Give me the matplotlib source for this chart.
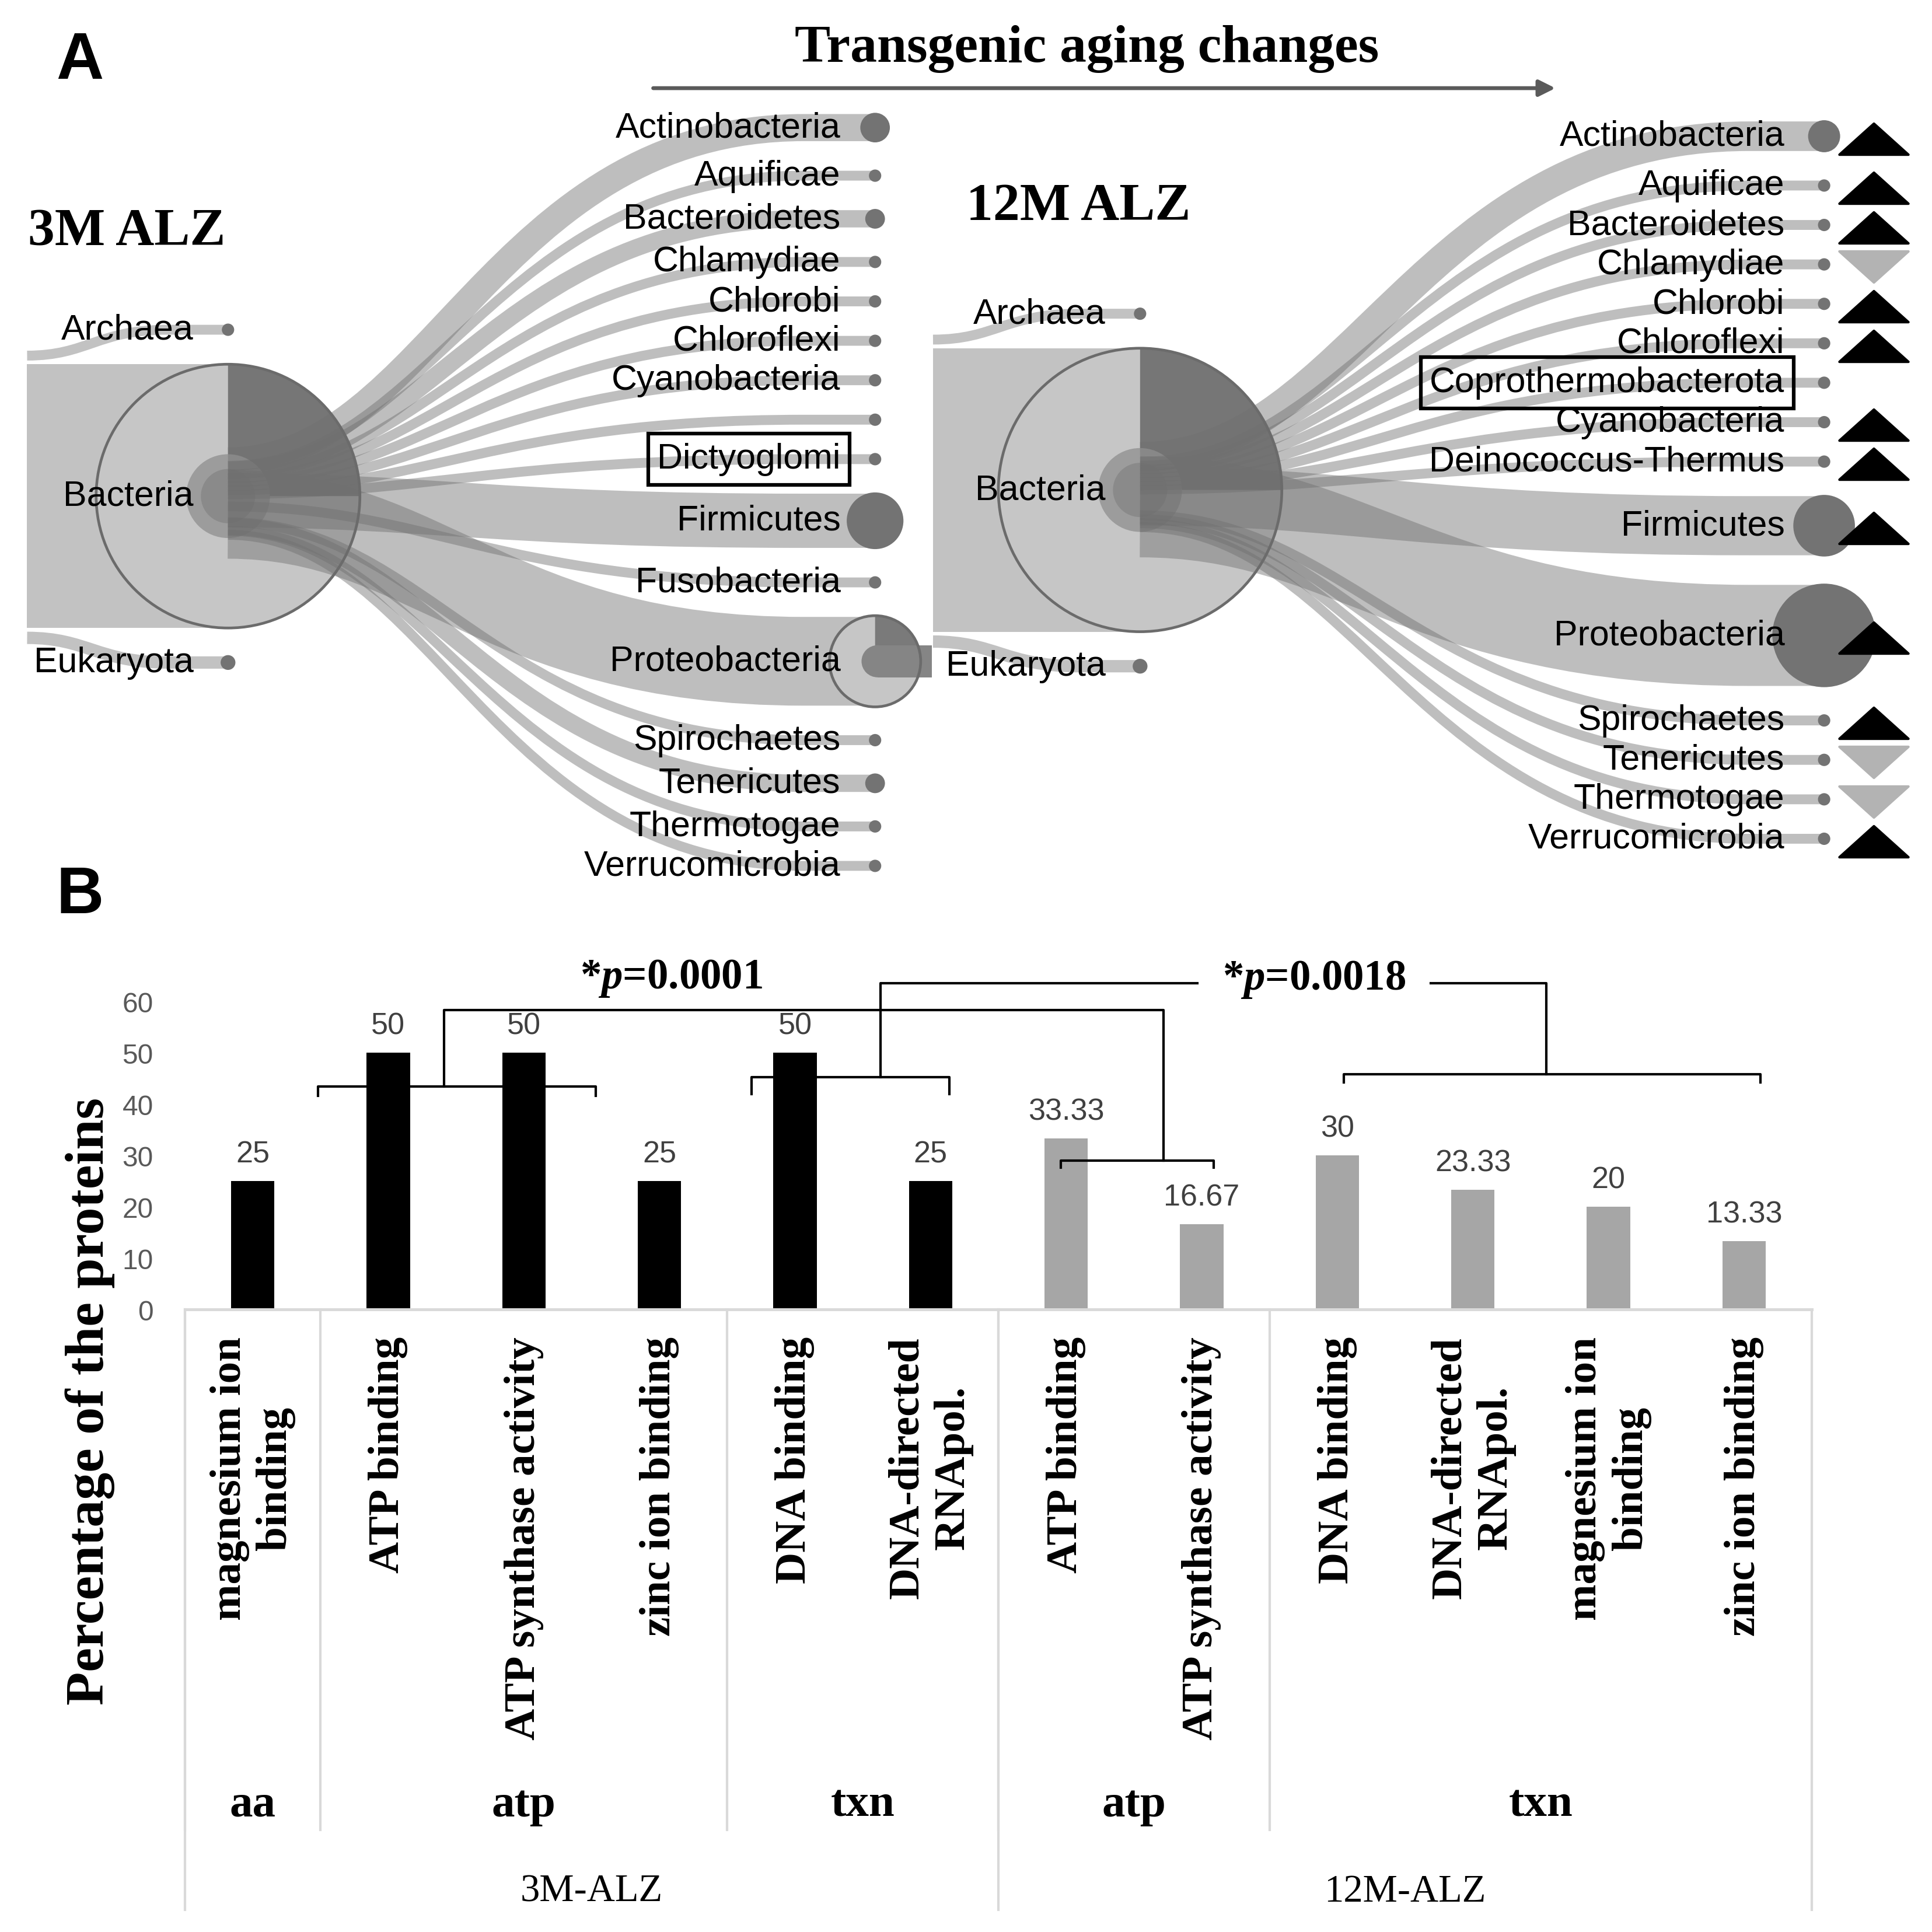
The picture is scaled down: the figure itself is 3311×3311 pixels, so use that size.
import numpy as np
import matplotlib.pyplot as plt
import matplotlib.transforms as mtransforms
from matplotlib.path import Path
from matplotlib.patches import PathPatch, Circle, Wedge, Rectangle

plt.rcParams['mathtext.fontset'] = 'custom'
plt.rcParams['mathtext.it'] = 'Liberation Serif:italic:bold'
plt.rcParams['mathtext.rm'] = 'Liberation Serif:bold'

SANS = 'Liberation Sans'
SERIF = 'Liberation Serif'

# ---- panel A: taxonomy trees (node size ~ abundance) ----
phyla_3m = ['Actinobacteria', 'Aquificae', 'Bacteroidetes', 'Chlamydiae', 'Chlorobi',
            'Chloroflexi', 'Cyanobacteria', '', 'Dictyoglomi', 'Firmicutes', 'Fusobacteria',
            'Proteobacteria', 'Spirochaetes', 'Tenericutes', 'Thermotogae', 'Verrucomicrobia']
node_3m = [12, 5, 8, 5, 5, 5, 5, 5, 5, 23, 5, 37, 5, 8, 5, 5]

phyla_12m = ['Actinobacteria', 'Aquificae', 'Bacteroidetes', 'Chlamydiae', 'Chlorobi',
             'Chloroflexi', 'Coprothermobacterota', 'Cyanobacteria', 'Deinococcus-Thermus',
             'Firmicutes', 'Proteobacteria', 'Spirochaetes', 'Tenericutes', 'Thermotogae',
             'Verrucomicrobia']
node_12m = [13, 5, 5, 5, 5, 5, 5, 5, 5, 25, 42, 5, 5, 5, 5]
trend_12m = ['up', 'up', 'up', 'down', 'up', 'up', '', 'up', 'up', 'up', 'up', 'up',
             'down', 'down', 'up']
new_phyla = ['Dictyoglomi', 'Coprothermobacterota']

# ---- panel B: GO terms ----
terms_3m = ['magnesium ion\nbinding', 'ATP binding', 'ATP synthase activity',
            'zinc ion binding', 'DNA binding', 'DNA-directed\nRNApol.']
groups_3m = ['aa', 'atp', 'atp', 'atp', 'txn', 'txn']
pct_3m = [25, 50, 50, 25, 50, 25]
terms_12m = ['ATP binding', 'ATP synthase activity', 'DNA binding', 'DNA-directed\nRNApol.',
             'magnesium ion\nbinding', 'zinc ion binding']
groups_12m = ['atp', 'atp', 'txn', 'txn', 'txn', 'txn']
pct_12m = [33.33, 16.67, 30, 23.33, 20, 13.33]

W = 1568
PT = 3312 / W * 72 / 300  # one layout unit in points

fig = plt.figure(figsize=(11.04, 11.04), dpi=300)
ov = fig.add_axes([0, 0, 1, 1])
ov.set_xlim(0, W)
ov.set_ylim(W, 0)
ov.axis('off')

LIGHT = '#c2c2c2'
DARK = '#737373'


def curve(x0, y0, x1, y1, xend, a=0.31, b=0.41, c=0.89):
    d = xend - x0
    verts = [(x0, y0), (x0 + a * d, y0), (x0 + b * d, y1), (x0 + c * d, y1), (xend, y1)]
    codes = [Path.MOVETO, Path.CURVE4, Path.CURVE4, Path.CURVE4, Path.LINETO]
    return Path(verts, codes)


def draw_tree(cx, cy, r, left_x, dot_x, y_first, names, sizes, label_gap, pie_child=None):
    # root level
    ov.add_patch(Rectangle((left_x, cy - r), cx - left_x, 2 * r, fc=LIGHT, ec='none', zorder=1))
    for sign, name, rr, w, off in [(-1, 'Archaea', 5, 8, 7), (1, 'Eukaryota', 6, 10, 8)]:
        ty = cy + sign * (r + 28)
        ys = cy + sign * (r + off)
        p = curve(left_x, ys, cx, ty, cx, 0.3, 0.35, 0.7)
        ov.add_patch(PathPatch(p, fill=False, lw=w * PT, ec=LIGHT, capstyle='butt', zorder=1))
        ov.add_patch(Circle((cx, ty), rr, fc=DARK, ec='none', zorder=5))
        ov.text(cx - 28, ty, name, ha='right', va='center', fontsize=14.6, family=SANS, zorder=6)

    ov.add_patch(Circle((cx, cy), r, fc='#c6c6c6', ec='none', zorder=2))
    ov.add_patch(Wedge((cx, cy), r, 270, 360, fc='#767676', ec='none', zorder=2.2))
    ov.add_patch(Circle((cx, cy), 34, fc='#9c9c9c', ec='none', zorder=2.4))
    ov.add_patch(Circle((cx, cy), 22, fc='#8a8a8a', ec='none', zorder=2.5))
    ov.text(cx - 28, cy, 'Bacteria', ha='right', va='center', fontsize=14.6, family=SANS, zorder=6)

    # phylum level
    ys = [y_first]
    for s0, s1 in zip(sizes[:-1], sizes[1:]):
        ys.append(ys[-1] + 22 + s0 + s1)
    mid = np.mean(ys)
    for y, s in zip(ys, sizes):
        p = curve(cx, cy + (y - mid) * 0.1, cx, y, dot_x)
        ov.add_patch(PathPatch(p, fill=False, lw=(2 * s - 2) * PT, ec='#707070', alpha=0.45,
                               capstyle='butt', zorder=3))
    ov.add_patch(Circle((cx, cy), r, fc='none', ec='#6b6b6b', lw=2.2 * PT, zorder=3.5))

    for name, y, s in zip(names, ys, sizes):
        if name == pie_child:
            ov.add_patch(Circle((dot_x, y), s, fc='#c6c6c6', ec='none', zorder=4.5))
            ov.add_patch(Wedge((dot_x, y), s, 270, 360, fc='#7a7a7a', ec='none', zorder=4.6))
            ov.add_patch(Circle((dot_x + 2, y), 13, fc='#858585', ec='none', zorder=4.7))
            ov.add_patch(Rectangle((dot_x + 2, y - 13), 44, 26, fc='#858585', ec='none', zorder=4.7))
            ov.add_patch(Circle((dot_x, y), s, fc='none', ec='#6b6b6b', lw=2.2 * PT, zorder=4.8))
        else:
            ov.add_patch(Circle((dot_x, y), s, fc=DARK, ec='none', zorder=5))
        if name:
            box = None
            if name in new_phyla:
                box = dict(boxstyle='square,pad=0.25', fc='none', ec='black', lw=1.5)
            ov.text(dot_x - label_gap, y, name, ha='right', va='center', fontsize=14.6,
                    family=SANS, zorder=6, bbox=box)
    return ys


draw_tree(185, 403, 107, 22, 710, 104, phyla_3m, node_3m, 28, pie_child='Proteobacteria')
ys12 = draw_tree(925, 398, 115, 757, 1480, 111, phyla_12m, node_12m, 32)

up = Path([(-1, -0.45), (1, -0.45), (0, 0.45), (-1, -0.45)],
          [Path.MOVETO, Path.LINETO, Path.LINETO, Path.CLOSEPOLY])
down = Path([(-1, 0.45), (1, 0.45), (0, -0.45), (-1, 0.45)],
            [Path.MOVETO, Path.LINETO, Path.LINETO, Path.CLOSEPOLY])
for y, t in zip(ys12, trend_12m):
    if t == 'up':
        ov.plot(1520, y + 2, marker=up, ms=56 * PT, color='black', zorder=7)
    elif t == 'down':
        ov.plot(1520, y + 2, marker=down, ms=56 * PT, color='#b3b3b3', zorder=7)

ov.text(65, 50, 'A', ha='center', va='center', fontsize=27, family=SANS, fontweight='bold')
ov.text(103, 188, '3M ALZ', ha='center', va='center', fontsize=22, family=SERIF, fontweight='bold')
ov.text(875, 168, '12M ALZ', ha='center', va='center', fontsize=22, family=SERIF, fontweight='bold')
ov.text(882, 40, 'Transgenic aging changes', ha='center', va='center', fontsize=22,
        family=SERIF, fontweight='bold')
ov.annotate('', xy=(1262, 72), xytext=(530, 72),
            arrowprops=dict(arrowstyle='-|>', color='#5a5a5a', lw=1.6, mutation_scale=14,
                            shrinkA=0, shrinkB=0))

# ---- panel B ----
ov.text(65, 727, 'B', ha='center', va='center', fontsize=27, family=SANS, fontweight='bold')
ov.text(73, 1137, 'Percentage of the proteins', rotation=90, ha='center', va='center',
        fontsize=22.5, family=SERIF, fontweight='bold')

terms = terms_3m + terms_12m
groups = groups_3m + groups_12m
pct = pct_3m + pct_12m
cohort = ['3M-ALZ'] * len(terms_3m) + ['12M-ALZ'] * len(terms_12m)
colors = ['#000000'] * len(pct_3m) + ['#a6a6a6'] * len(pct_12m)
x = np.arange(len(terms))

axb = fig.add_axes([150 / W, 1 - 1063 / W, 1320 / W, 250 / W])
axb.patch.set_alpha(0)
axb.bar(x, pct, width=0.32, color=colors, zorder=2)
for xi, v in zip(x, pct):
    axb.annotate(f'{v:g}', (xi, v), xytext=(0, 11), textcoords='offset points', ha='center',
                 va='center', fontsize=12.5, family=SANS, color='#404040')
axb.set_xlim(-0.5, len(x) - 0.5)
axb.set_ylim(0, 60)
axb.set_yticks(range(0, 61, 10))
axb.tick_params(axis='y', length=0, pad=13, labelsize=11.5, labelcolor='#595959')
for lbl in axb.get_yticklabels():
    lbl.set_family(SANS)
axb.set_xticks(x)
axb.set_xticklabels(terms, rotation=90, fontsize=18, family=SERIF, fontweight='bold')
axb.tick_params(axis='x', length=0, pad=11)
for lbl in axb.get_xticklabels():
    lbl.set_multialignment('center')
for side in ['top', 'right', 'left']:
    axb.spines[side].set_visible(False)
axb.spines['bottom'].set_color('#d9d9d9')
axb.spines['bottom'].set_linewidth(1.2)

trans = mtransforms.blended_transform_factory(axb.transData, axb.transAxes)
GRID = '#d9d9d9'


def spans(keys):
    out, start = [], 0
    for i in range(1, len(keys) + 1):
        if i == len(keys) or keys[i] != keys[start]:
            out.append((start, i - 1, keys[start][-1]))
            start = i
    return out


for s, e, name in spans(list(zip(cohort, groups))):
    axb.plot([s - 0.5, s - 0.5], [0, -1.688], color=GRID, lw=1, transform=trans, clip_on=False)
    axb.text((s + e) / 2, -1.608, name, transform=trans, ha='center', va='center',
             fontsize=19, family=SERIF, fontweight='bold')
for s, e, name in spans([(c,) for c in cohort]):
    axb.plot([s - 0.5, s - 0.5], [0, -1.948], color=GRID, lw=1, transform=trans, clip_on=False)
    axb.text((s + e) / 2, -1.888, name, transform=trans, ha='center', va='center',
             fontsize=16, family=SERIF)
axb.plot([len(x) - 0.5] * 2, [0, -1.948], color=GRID, lw=1, transform=trans, clip_on=False)


def bracket(x0, x1, y, tick):
    axb.plot([x0, x0, x1, x1], [tick, y, y, tick], color='black', lw=1, clip_on=False, zorder=4)


bracket(0.48, 2.53, 43.4, 41.6)
bracket(3.68, 5.14, 45.3, 42.0)
bracket(5.96, 7.09, 29.0, 27.6)
bracket(8.05, 11.12, 45.8, 44.2)
axb.plot([1.41, 1.41, 6.72, 6.72], [43.4, 58.3, 58.3, 29.0], color='black', lw=1,
         clip_on=False, zorder=4)
axb.plot([4.63, 4.63, 6.97], [45.3, 63.6, 63.6], color='black', lw=1, clip_on=False, zorder=4)
axb.plot([8.69, 9.54, 9.54], [63.6, 63.6, 45.8], color='black', lw=1, clip_on=False, zorder=4)
axb.text(3.09, 64.6, r'*$p$=0.0001', ha='center', va='center', fontsize=17.5, family=SERIF,
         fontweight='bold')
axb.text(7.83, 64.4, r'*$p$=0.0018', ha='center', va='center', fontsize=17.5, family=SERIF,
         fontweight='bold')

fig.savefig('out.png', dpi=300)
